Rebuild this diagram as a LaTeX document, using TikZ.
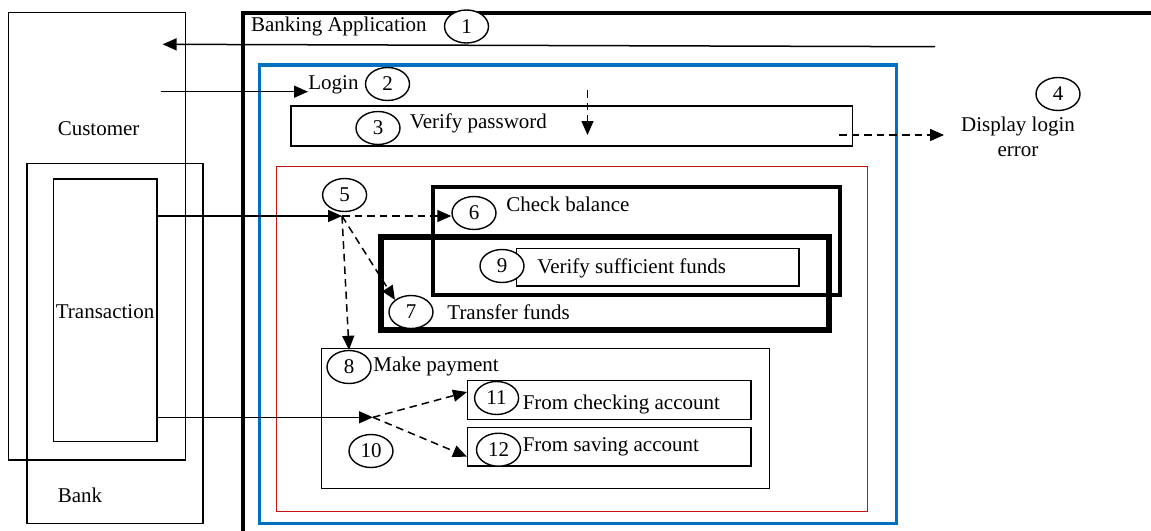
\documentclass[tikz,border=0pt]{standalone}
\usepackage{fontspec}
\setmainfont{Liberation Serif}
\usepackage{xcolor}
\usetikzlibrary{arrows.meta}
\usetikzlibrary{shapes.geometric}
\usetikzlibrary{fit}
\usetikzlibrary{calc}
\definecolor{loginblue}{RGB}{0,112,192}
\definecolor{trred}{RGB}{200,16,16}

\begin{document}
\begin{tikzpicture}[x=0.5pt, y=-0.5pt, font=\fontsize{10.5}{12.5}\selectfont,
	frame/.style={draw, line width=0.75pt, inner sep=0pt},
	num/.style={draw, fill=white, ellipse, line width=0.7pt, minimum width=22pt, minimum height=16.5pt, inner sep=0pt},
	txt/.style={anchor=west, inner sep=0pt},
	flow/.style={-{Triangle[length=7pt,width=6pt]}, line width=0.75pt},
	dflow/.style={flow, dash pattern=on 3.8pt off 2.5pt}]
	\useasboundingbox (0,0) rectangle (1151,530);
	\clip (0,0) rectangle (1151,530);
	
	% customer and bank
	\node[frame, fit={(8.4,12.7) (185.6,460)}] (cust) {};
	\node[txt] (custtxt) at (57.4,128.3) {Customer};
	\node[frame, fit={(26.8,163.3) (202.8,523.3)}] (bank) {};
	\node[txt] (banktxt) at (57.4,495) {Bank};
	\node[frame, fit={(53.6,179) (157,441.7)}] (trans) {};
	\node[txt] (transtxt) at (55.5,311.7) {Transaction};
	
	% banking application
	\node[frame, line width=2pt, fit={(243,13) (1175,550)}] (app) {};
	\node[txt] (apptxt) at (250.7,26) {Banking Application};
	\node[num] (c1) at (466.5,26.5) {1};
	
	% login
	\node[frame, draw=loginblue, line width=1.75pt, fit={(259.5,65) (896.4,523.3)}] (login) {};
	\node[txt] (logintxt) at (308,85) {Login};
	\node[num] (c2) at (387.5,84) {2};
	\node[frame, fit={(290.9,106) (852.3,146)}] (verify) {};
	\node[num] (c3) at (378,128) {3};
	\node[txt] (verifytxt) at (409.5,123) {Verify password};
	\node[num] (c4) at (1058,94) {4};
	\node[txt, anchor=north, align=center] (disptxt) at (1018,117) {Display login\\error};
	
	% transactions
	\node[frame, draw=trred, line width=0.6pt, fit={(276.7,166.7) (867.6,511.7)}] (tract) {};
	\node[num] (c5) at (344.6,195) {5};
	\node[frame, line width=2pt, fit={(432.5,187.3) (839.7,295)}] (balance) {};
	\node[num] (c6) at (474,213) {6};
	\node[txt] (balancetxt) at (506,204) {Check balance};
	\node[frame, line width=3pt, fit={(380.8,237.3) (829.4,330)}] (transfer) {};
	\node[frame, fit={(516.6,248.3) (798.8,286)}] (funds) {};
	\node[num] (c9) at (502,266) {9};
	\node[txt] (fundstxt) at (537,268) {Verify sufficient funds};
	\node[num] (c7) at (411,312) {7};
	\node[txt] (transfertxt) at (447,312.7) {Transfer funds};
	
	% payment
	\node[frame, fit={(321.5,348.3) (769.3,488.3)}] (pay) {};
	\node[num] (c8) at (349,367) {8};
	\node[txt] (paytxt) at (373,366.7) {Make payment};
	\node[frame, fit={(467.7,380.7) (751,419.3)}] (chk) {};
	\node[num] (c11) at (496.6,398) {11};
	\node[txt] (chktxt) at (522.4,404) {From checking account};
	\node[frame, fit={(467.7,427.3) (751,466)}] (sav) {};
	\node[num] (c12) at (498.5,449.7) {12};
	\node[txt] (savtxt) at (522.4,446.7) {From saving account};
	\node[num] (c10) at (371,451) {10};
	
	% free ends
	\coordinate (retstart) at (935,46.7);
	\coordinate (retend) at (162.6,44.3);
	\coordinate (logstart) at (160.7,91.7);
	\coordinate (pwtop) at (587.5,90);
	\coordinate (pwbot) at (587.5,135);
	\coordinate (errstart) at (839,135);
	\coordinate (errend) at (944,135);
	\coordinate (hub5) at (342,216);
	\coordinate (hub10) at (373,417.3);
	
	% arrows
	\draw[flow] (retstart) -- (retend);
	\draw[flow] (logstart) -- (logintxt.west |- logstart);
	\draw[dflow] (pwtop) -- (pwbot);
	\draw[dflow] (errstart) -- (errend);
	\draw[flow] (trans.east |- hub5) -- (hub5);
	\draw[dflow] (hub5) -- (hub5 -| c6.west);
	\draw[dflow] (hub5) -- (c7.north west);
	\draw[dflow] (hub5) -- (c8.north);
	\draw[flow] (trans.east |- hub10) -- (hub10);
	\draw[dflow] (hub10) -- ($(chk.west)+(0,-8)$);
	\draw[dflow] (hub10) -- ($(sav.west)+(0,10)$);
\end{tikzpicture}
\end{document}
